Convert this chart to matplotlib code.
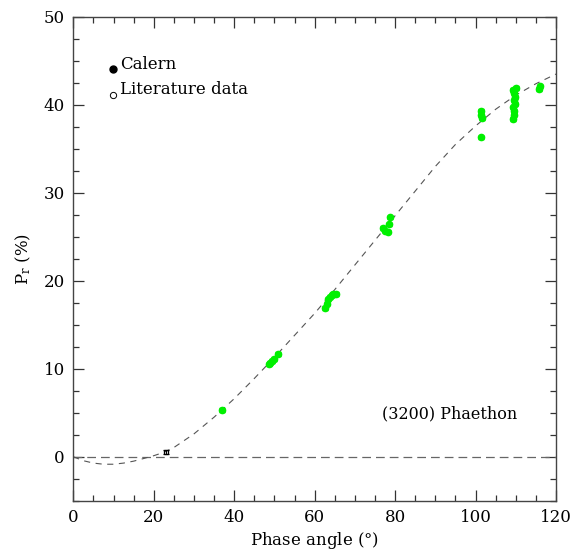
#import necessary libraries
import numpy as np
import matplotlib.pyplot as plt
from matplotlib.ticker import MultipleLocator

plt.rcParams['font.family'] = ['DejaVu Serif']
plt.rcParams['mathtext.fontset'] = 'dejavuserif'

#Calern measurements (phase angle, polarization, error)
calern_alpha = [36.9, 48.6, 49.0, 49.5, 50.0, 50.8,
                62.6, 63.0, 63.4, 63.8, 64.2, 64.6, 65.2,
                76.9, 77.5, 78.2, 78.5, 78.7,
                101.3, 101.4, 101.5, 101.3,
                109.3, 109.5, 109.6, 109.4, 109.7, 109.5, 109.8, 109.6, 109.4, 110.0,
                115.8, 116.0]
calern_pr = [5.3, 10.5, 10.7, 10.9, 11.1, 11.7,
             16.9, 17.4, 17.9, 18.2, 18.4, 18.5, 18.5,
             26.0, 25.7, 25.6, 26.4, 27.2,
             39.3, 38.8, 38.5, 36.3,
             38.4, 38.9, 39.3, 39.7, 40.1, 40.5, 40.9, 41.3, 41.7, 41.9,
             41.8, 42.1]
calern_err = [0.2]*len(calern_alpha)

#literature data
lit_alpha = [23.0]
lit_pr = [0.55]
lit_err = [0.2]

#phase curve fit
fit_alpha = [0, 2.5, 5, 7.5, 10, 12.5, 15, 17.5, 20, 22.5, 25, 30, 35, 40, 45, 50,
             55, 60, 65, 70, 75, 80, 85, 90, 95, 100, 105, 110, 115, 120]
fit_pr = [0.0, -0.45, -0.72, -0.85, -0.85, -0.72, -0.5, -0.2, 0.12, 0.5, 1.05, 2.6,
          4.5, 6.6, 8.9, 11.3, 13.8, 16.3, 19.0, 21.8, 24.6, 27.4, 30.2, 33.0,
          35.5, 37.6, 39.5, 41.1, 42.4, 43.5]

fig = plt.figure(figsize=(5.74, 5.53), dpi=100)
ax = fig.add_axes([0.1277, 0.0945, 0.841, 0.875])

#zero line and fitted curve
ax.plot([0, 120], [0, 0], color="#666666", linestyle=(0, (7, 4)), linewidth=0.9)
ax.plot(fit_alpha, fit_pr, color="#555555", linestyle=(0, (5.5, 5)), linewidth=0.8)

#data
ax.errorbar(calern_alpha, calern_pr, yerr=calern_err, fmt="o", color="#00f000",
            markersize=4.5, elinewidth=0.8, capsize=2, zorder=3)
ax.errorbar(lit_alpha, lit_pr, yerr=lit_err, fmt="s", color="black", mfc="none",
            markersize=3.5, markeredgewidth=0.9, elinewidth=0.8, capsize=2, zorder=3)

#legend drawn by hand
ax.plot([9.9], [44.05], "o", color="black", markersize=5)
ax.plot([9.9], [41.1], "o", color="black", mfc="none", markersize=4.5, markeredgewidth=0.7)
ax.text(11.7, 44.6, "Calern", fontsize=12, va="center", ha="left")
ax.text(11.7, 41.7, "Literature data", fontsize=12, va="center", ha="left")
ax.text(93.6, 4.9, "(3200) Phaethon", fontsize=11.5, va="center", ha="center")

#axes, ticks and labels
ax.set_xlim(0, 120)
ax.set_ylim(-5, 50)
ax.xaxis.set_major_locator(MultipleLocator(20))
ax.xaxis.set_minor_locator(MultipleLocator(5))
ax.yaxis.set_major_locator(MultipleLocator(10))
ax.yaxis.set_minor_locator(MultipleLocator(2.5))
ax.tick_params(which="both", direction="in", top=True, right=True, color="#333333",
               labelsize=12, width=0.9)
ax.tick_params(which="major", length=8, pad=6)
ax.tick_params(which="minor", length=4)
for s in ax.spines.values():
    s.set_color("#444444")
    s.set_linewidth(1.0)
ax.set_xlabel("Phase angle ($\\degree$)", fontsize=12, labelpad=3)
ax.set_ylabel("$\\mathregular{P_r}$ (%)", fontsize=12, labelpad=8)

fig.savefig("out.png", dpi=100)
